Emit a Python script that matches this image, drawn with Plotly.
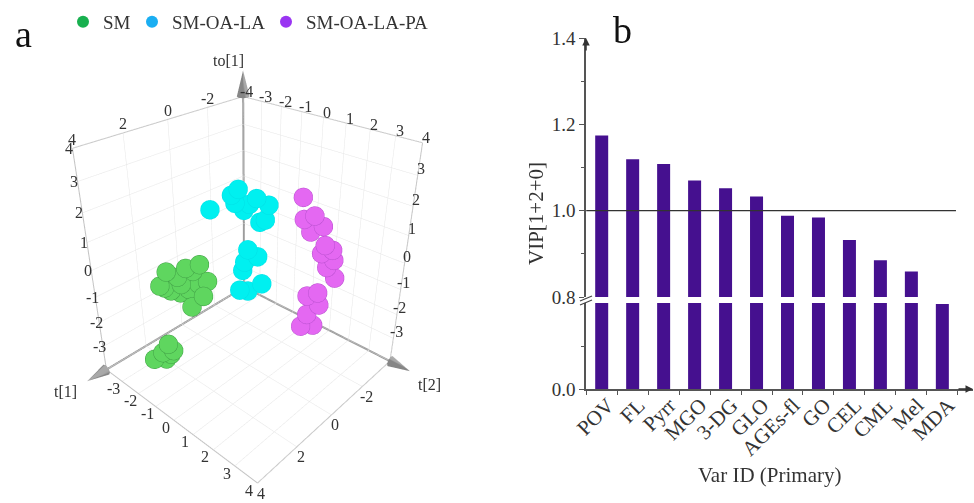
import plotly.graph_objects as go

# ---------- panel b data ----------
var_ids = ["POV","FL","Pyrr","MGO","3-DG","GLO","AGEs-fl","GO","CEL","CML","Mel","MDA"]
vip = [1.174,1.119,1.108,1.070,1.052,1.033,0.988,0.984,0.932,0.885,0.859,0.79]

# ---------- panel a data (t[2], t[1], to[1]) ----------
sm_t2 = [2.79,2.97,2.71,2.32,2.27,2.15,1.81,2.21,2.50,2.45,2.27,2.02,2.53,2.86,2.48,2.09, 2.97,2.85,3.05,3.36,3.13,2.92]
sm_t1 = [-1.29,-1.47,-1.21,-0.82,-0.17,-0.65,-0.31,-0.11,-0.40,-0.95,-0.77,-0.52,-1.03,-1.36,-0.98,-0.59, -1.27,-1.15,-1.35,-1.66,-1.43,-1.22]
sm_to = [0.47,-0.02,-0.20,0.58,0.92,0.47,0.10,-0.18,-0.55,0.02,-0.16,0.02,0.28,-0.09,-0.28,-0.39, -2.13,-2.39,-2.72,-2.72,-2.46,-2.53]

la_t2 = [0.58,0.74,0.66,0.45,0.15,-0.14,0.32,1.25,0.07,-0.06, 0.10,-0.15,0.18,0.23,-0.26,0.31,0.10]
la_t1 = [0.02,-0.14,-0.06,0.15,0.45,0.74,0.28,-0.65,0.53,0.66, 0.0,0.25,-0.08,-0.13,0.36,-0.21,0.0]
la_to = [2.84,2.66,2.40,2.17,2.54,2.32,2.36,2.21,1.77,1.84, 0.67,0.41,0.23,-0.07,-0.59,-0.81,-0.85]

pa_t2 = [-1.46,-1.51,-1.77,-2.0,-1.69,-2.08,-2.0,-2.33,-2.16,-2.39,-2.28, -1.63,-1.91,-1.96,-1.65,-1.50,-1.83]
pa_t1 = [1.16,1.21,1.47,1.70,1.39,1.78,1.70,2.03,1.86,2.09,1.98, 1.43,1.71,1.76,1.45,1.30,1.63]
pa_to = [2.29,1.55,1.66,1.29,1.11,0.62,0.33,0.07,-0.19,-0.60,0.44, -1.23,-1.12,-1.60,-1.97,-2.45,-2.42]

legend_names = ["SM","SM-OA-LA","SM-OA-LA-PA"]
legend_cols = ["#18b04f","#1aaef2","#9a35f2"]
sphere_cols = ["#5fd65f","#00f0f0","#e468f2"]
sphere_edges = ["#3f9f45","#00e0e6","#b94fd0"]

t_ticks = [-4,-3,-2,-1,0,1,2,3,4]
z_ticks = [4,3,2,1,0,-1,-2,-3,-4]

FONT = "Liberation Serif"
INK = "#333333"
W, H = 974, 503
px = lambda v: v / W
py = lambda v: 1 - v / H

fig = go.Figure()

for name, xs, ys, zs, col, edge in zip(legend_names, [sm_t2, la_t2, pa_t2], [sm_t1, la_t1, pa_t1], [sm_to, la_to, pa_to], sphere_cols, sphere_edges):
    fig.add_trace(go.Scatter3d(x=xs, y=ys, z=zs, mode="markers", name=name, showlegend=False,
                               marker=dict(size=11, color=col, line=dict(color=edge, width=1))))

lo, hi = -4, 4
edges = [((lo,lo,hi),(hi,lo,hi)), ((lo,lo,hi),(lo,hi,hi)), ((hi,lo,lo),(hi,lo,hi)), ((lo,hi,lo),(lo,hi,hi)),
         ((hi,lo,lo),(hi,hi,lo)), ((lo,hi,lo),(hi,hi,lo))]
for a, b in edges:
    fig.add_trace(go.Scatter3d(x=[a[0],b[0]], y=[a[1],b[1]], z=[a[2],b[2]], mode="lines", showlegend=False,
                               hoverinfo="skip", line=dict(color="#c4c4c4", width=2)))
for b in [(lo,lo,hi),(hi,lo,lo),(lo,hi,lo)]:
    fig.add_trace(go.Scatter3d(x=[lo,b[0]], y=[lo,b[1]], z=[lo,b[2]], mode="lines", showlegend=False,
                               hoverinfo="skip", line=dict(color="#9c9c9c", width=4)))
    d = [(b[i]-lo)/8*0.8 for i in range(3)]
    fig.add_trace(go.Cone(x=[b[0]], y=[b[1]], z=[b[2]], u=[d[0]], v=[d[1]], w=[d[2]], anchor="tail",
                          sizemode="absolute", sizeref=0.9, showscale=False, hoverinfo="skip",
                          colorscale=[[0,"#a8a8a8"],[1,"#a8a8a8"]]))

for i, (name, col) in enumerate(zip(legend_names, legend_cols)):
    fig.add_trace(go.Scatter(x=[None], y=[None], mode="markers", name=name, xaxis="x", yaxis="y",
                             legend="legend" if i == 0 else f"legend{i+1}",
                             marker=dict(size=12, color=col)))

for ya in ["y", "y2"]:
    fig.add_trace(go.Bar(x=var_ids, y=vip, width=0.42, marker=dict(color="#45108f", line=dict(width=0)),
                         yaxis=ya, showlegend=False))

sa = []
def lab(x, y, z, t, dx=0, dy=0):
    sa.append(dict(x=x, y=y, z=z, text=str(t), showarrow=False, xshift=dx, yshift=dy,
                   font=dict(family=FONT, size=16, color=INK)))
for v in [-3,-2,-1,0,1,2,3,4]:
    lab(4, v, -4, v, -8, -7)
for v in [-2,0,2,4]:
    lab(v, 4, -4, v, 4, -10)
for v in [-2,0,2,4]:
    lab(v, -4, 4, v, 0, 9)
for v in [-4,-3,-2,-1,0,1,2,3,4]:
    lab(-4, v, 4, v, 4, 5)
for v in [4,3,2,1,0,-1,-2,-3]:
    lab(4, -4, v, v, -3, 0)
for v in [3,2,1,0,-1,-2,-3]:
    lab(-4, 4, v, v, 3, 7)
for t, x, y, z, dx, dy in [("to[1]",-4,-4,4,-14,36),("t[1]",4,-4,-4,-41,-22),("t[2]",-4,4,-4,40,-23)]:
    lab(x, y, z, t, dx, dy)

grid = dict(range=[-4,4], showbackground=False, showgrid=True, gridcolor="#e6e6e6", gridwidth=1,
            zeroline=False, showline=False, showticklabels=False, ticks="", title=dict(text=""), showspikes=False)

def note(x, y, text, size, color=INK, angle=0):
    return dict(xref="paper", yref="paper", x=px(x), y=py(y), text=text, showarrow=False, textangle=angle,
                xanchor="center", yanchor="middle", font=dict(family=FONT, size=size, color=color))

def one_legend(x):
    return dict(orientation="h", x=px(x), y=py(3), xanchor="left", yanchor="top",
                font=dict(family=FONT, size=19, color=INK), itemwidth=30, bgcolor="rgba(0,0,0,0)")

fig.update_layout(
    width=W, height=H, paper_bgcolor="white", plot_bgcolor="white",
    margin=dict(l=0, r=0, t=0, b=0, autoexpand=False),
    font=dict(family=FONT, color=INK),
    scene=dict(domain=dict(x=[0.006,0.506], y=[0,1]), aspectmode="manual", aspectratio=dict(x=0.87,y=0.87,z=1.0),
               camera=dict(eye=dict(x=1.50,y=1.37,z=1.245), center=dict(x=0,y=0,z=0.07),
                           projection=dict(type="perspective")),
               xaxis=dict(grid, tickvals=[-2,0,2]), yaxis=dict(grid, tickvals=t_ticks), zaxis=dict(grid, tickvals=z_ticks),
               annotations=sa),
    legend=one_legend(63), legend2=one_legend(132), legend3=one_legend(266),
    xaxis=dict(domain=[px(586), px(973)], type="category", categoryorder="array", categoryarray=var_ids,
               range=[-0.507, 11.99], anchor="y", showline=True, linecolor="#555", linewidth=1.5,
               ticks="outside", ticklen=4, tickcolor="#555", tickson="boundaries", tickangle=-45, ticklabelshift=6,
               ticklabelstandoff=-6, tickfont=dict(family=FONT, size=21, color=INK), showgrid=False, fixedrange=True),
    yaxis=dict(domain=[py(389), py(303)], range=[0,0.8], anchor="x", showline=True, linecolor="#555", linewidth=1.5,
               tickvals=[0], ticktext=["0.0"], ticks="outside", ticklen=5, tickcolor="#555",
               minor=dict(tickvals=[0.4], ticks="outside", ticklen=3, tickcolor="#555"),
               tickfont=dict(family=FONT, size=19, color=INK), showgrid=False, zeroline=False),
    yaxis2=dict(domain=[py(297), py(38)], range=[0.8,1.4], anchor="x", showline=True, linecolor="#555", linewidth=1.5,
                tickvals=[0.8,1.0,1.2,1.4], ticktext=["0.8","1.0","1.2","1.4"], ticks="outside", ticklen=5, tickcolor="#555",
                minor=dict(tickvals=[0.9,1.1,1.3], ticks="outside", ticklen=3, tickcolor="#555"),
                tickfont=dict(family=FONT, size=19, color=INK), showgrid=False, zeroline=False),
    shapes=[
        dict(type="line", xref="x", yref="y2", x0=-0.5, x1=11.44, y0=1.0, y1=1.0, line=dict(color="#333", width=1.2), layer="above"),
        dict(type="line", xref="paper", yref="paper", x0=px(580), x1=px(592), y0=py(301), y1=py(296), line=dict(color="#444", width=1.2)),
        dict(type="line", xref="paper", yref="paper", x0=px(580), x1=px(592), y0=py(305), y1=py(300), line=dict(color="#444", width=1.2)),
    ],
    annotations=[
        note(23, 34, "a", 38, "#111"),
        note(622, 30, "b", 38, "#111"),
        note(536, 214, "VIP[1+2+0]", 21, INK, -90),
        note(769, 475, "Var ID (Primary)", 21),
        dict(xref="paper", yref="paper", x=px(586), y=py(38), ax=0, ay=14, text="", showarrow=True, arrowhead=2, arrowsize=1, arrowwidth=1.5, arrowcolor="#333"),
        dict(xref="paper", yref="paper", x=px(973), y=py(389), ax=-16, ay=0, text="", showarrow=True, arrowhead=2, arrowsize=1, arrowwidth=1.5, arrowcolor="#333"),
    ],
)
fig.write_html("out.html", post_script="document.body.style.margin='0';", config=dict(displayModeBar=False))
